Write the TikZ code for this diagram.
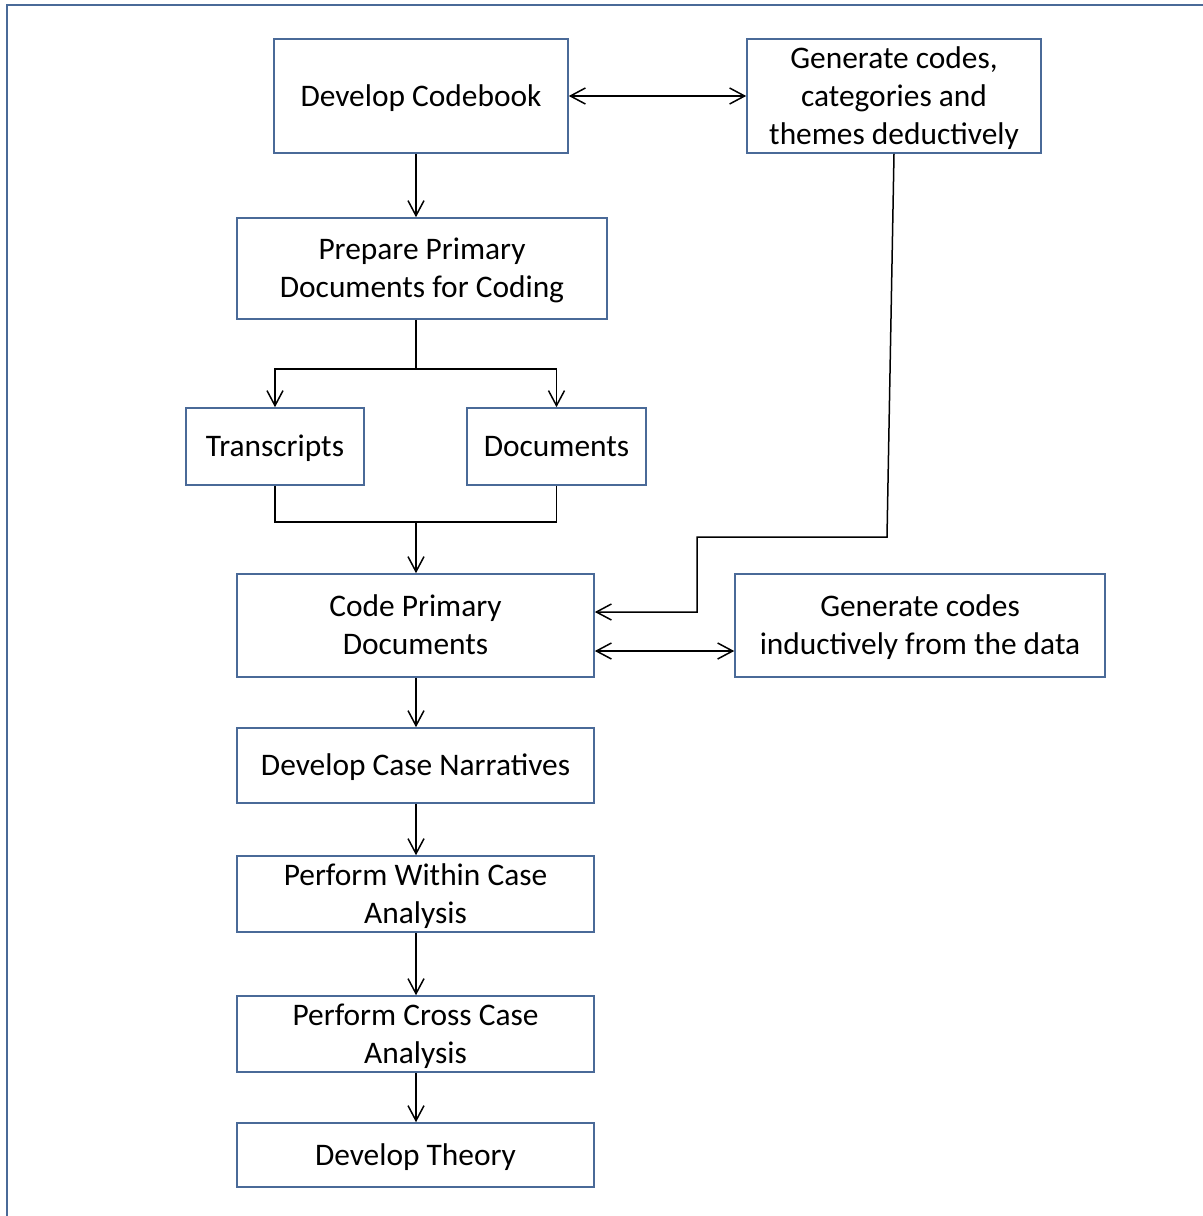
\documentclass[tikz,border=0pt]{standalone}
\usepackage{fontspec}
\setmainfont{Carlito}
\usetikzlibrary{arrows.meta}
\definecolor{boxblue}{HTML}{4A6A98}
% fixed line box so every text line sits at the same height
\newcommand\lnstrut{\rule[-4.5pt]{0pt}{19pt}}
\tikzset{
  stepbox/.style={draw=boxblue, line width=0.8pt, align=center, inner sep=0pt,
    font=\fontsize{15.7}{19}\selectfont},
  link/.style={draw=black, line width=0.75pt, -{Straight Barb[length=7.5pt,width=8pt,line width=0.75pt]}},
  duallink/.style={link, {Straight Barb[length=7.5pt,width=8pt,line width=0.75pt]}-{Straight Barb[length=7.5pt,width=8pt,line width=0.75pt]}},
  plainlink/.style={draw=black, line width=0.75pt}
}
\begin{document}
\begin{tikzpicture}[x=0.5pt,y=-0.5pt]
  \useasboundingbox (0,0) rectangle (1203,1216);
  \begin{scope}
    \clip (0,0) rectangle (1203,1216);
    \draw[boxblue, line width=1.3pt] (7,5) rectangle (1230,1240);
  \end{scope}

  % process boxes (centre, width, height in px)
  \node[stepbox, minimum width=147pt, minimum height=57pt] (cb) at (421,96) {\lnstrut Develop Codebook};
  \node[stepbox, minimum width=147pt, minimum height=57pt] (gd) at (894,96) {\lnstrut Generate codes,\\\lnstrut categories and\\\lnstrut themes deductively};
  \node[stepbox, minimum width=185pt, minimum height=50.5pt] (pp) at (422,268.5) {\lnstrut Prepare Primary\\\lnstrut Documents for Coding};
  \node[stepbox, minimum width=89pt, minimum height=38.5pt] (tr) at (275,446.5) {\lnstrut Transcripts};
  \node[stepbox, minimum width=89.5pt, minimum height=38.5pt] (dc) at (556.5,446.5) {\lnstrut Documents};
  \node[stepbox, minimum width=178.5pt, minimum height=51.5pt] (cp) at (415.5,625.5) {\lnstrut Code Primary\\\lnstrut Documents};
  \node[stepbox, minimum width=185pt, minimum height=51.5pt] (gi) at (920,625.5) {\lnstrut Generate codes\\\lnstrut inductively from the data};
  \node[stepbox, minimum width=178.5pt, minimum height=37.5pt] (cn) at (415.5,765.5) {\lnstrut Develop Case Narratives};
  \node[stepbox, minimum width=178.5pt, minimum height=38pt] (wc) at (415.5,894) {\lnstrut Perform Within Case\\\lnstrut Analysis};
  \node[stepbox, minimum width=178.5pt, minimum height=38pt] (cc) at (415.5,1034) {\lnstrut Perform Cross Case\\\lnstrut Analysis};
  \node[stepbox, minimum width=178.5pt, minimum height=32pt] (th) at (415.5,1155) {\lnstrut Develop Theory};

  % junction points
  \coordinate (split) at (416,369);
  \coordinate (merge) at (416,522);
  \coordinate (bendA) at (887,537);
  \coordinate (bendB) at (697,537);
  \coordinate (bendC) at (697,612);

  % connectors
  \draw[duallink] (cb.east) -- (gd.west);
  \draw[link] (cb.south -| split) -- (pp.north -| split);
  \draw[plainlink] (pp.south -| split) -- (split);
  \draw[link] (split) -| (tr.north);
  \draw[link] (split) -| (dc.north);
  \draw[plainlink] (tr.south) |- (merge);
  \draw[plainlink] (dc.south) |- (merge);
  \draw[link] (merge) -- (cp.north -| merge);
  \draw[link] (gd.south) -- (bendA) -- (bendB) -- (bendC) -- (cp.east |- bendC);
  \draw[duallink] (cp.east |- 0,651) -- (gi.west |- 0,651);
  \draw[link] (cp.south -| split) -- (cn.north -| split);
  \draw[link] (cn.south -| split) -- (wc.north -| split);
  \draw[link] (wc.south -| split) -- (cc.north -| split);
  \draw[link] (cc.south -| split) -- (th.north -| split);
\end{tikzpicture}
\end{document}
